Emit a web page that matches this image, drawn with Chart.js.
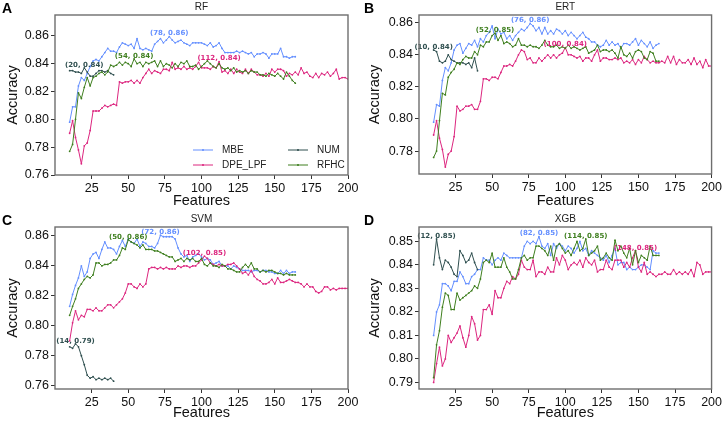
<!DOCTYPE html>
<html lang="en">
<head>
    <meta charset="UTF-8">
    <title>Accuracy vs Features</title>
    <style>
        body { margin: 0; background: #fff; }
        .wrap { position: relative; width: 724px; height: 425px; }
        canvas { position: absolute; }
    </style>
    <script src="https://cdn.jsdelivr.net/npm/chart.js"></script>
</head>
<body>
    <div class="wrap">
        <canvas id="pA" width="362" height="212" style="left:0;top:0"></canvas>
        <canvas id="pB" width="362" height="212" style="left:362px;top:0"></canvas>
        <canvas id="pC" width="362" height="212" style="left:0;top:212px"></canvas>
        <canvas id="pD" width="362" height="212" style="left:362px;top:212px"></canvas>
    </div>

    <script>
        // feature counts (x values)
        const featShort = [10,12,14,16,18,20,22,24,26,28,30,32,34,36,38,40,42,44,46,48,50,52,54,56,58,60,62,64,66,68,70,72,74,76,78,80,82,84,86,88,90,92,94,96,98,100,102,104,106,108,110,112,114,116,118,120,122,124,126,128,130,132,134,136,138,140,142,144,146,148,150,152,154,156,158,160,162,164];
        const featLong = [10,12,14,16,18,20,22,24,26,28,30,32,34,36,38,40,42,44,46,48,50,52,54,56,58,60,62,64,66,68,70,72,74,76,78,80,82,84,86,88,90,92,94,96,98,100,102,104,106,108,110,112,114,116,118,120,122,124,126,128,130,132,134,136,138,140,142,144,146,148,150,152,154,156,158,160,162,164,166,168,170,172,174,176,178,180,182,184,186,188,190,192,194,196,198,200];
        const featNum = [10,12,14,16,18,20,22,24,26,28,30,32,34,36,38,40];

        const seriesNames = ['MBE', 'DPE_LPF', 'NUM', 'RFHC'];
        const seriesColors = ['#648FFF', '#DC267F', '#2F4F4F', '#3F7F1F'];
        const xTicks = [25, 50, 75, 100, 125, 150, 175, 200];

        // RF
        const rfMBE = [
            .798,.809,.809,.824,.830,.828,.833,.838,.842,.843,
            .842,.845,.848,.851,.849,.849,.848,.852,.855,.854,
            .853,.854,.851,.858,.851,.850,.851,.850,.849,.854,
            .856,.858,.855,.857,.8595,.857,.855,.856,.857,.855,
            .854,.853,.855,.855,.855,.855,.854,.853,.855,.852,
            .853,.855,.851,.848,.848,.848,.848,.849,.848,.849,
            .848,.847,.848,.845,.847,.847,.848,.847,.844,.847,
            .847,.847,.851,.845,.845,.844,.845,.845];
        const rfDPE = [
            .790,.799,.787,.778,.768,.781,.783,.792,.806,.806,
            .806,.808,.810,.809,.810,.811,.810,.827,.826,.827,
            .827,.828,.826,.828,.826,.830,.833,.836,.833,.835,
            .834,.833,.836,.836,.835,.841,.836,.837,.836,.838,
            .836,.837,.836,.838,.841,.837,.837,.837,.836,.838,
            .837,.8415,.834,.835,.833,.836,.833,.836,.834,.833,
            .836,.833,.836,.834,.832,.832,.831,.833,.831,.836,
            .834,.836,.836,.835,.831,.833,.832,.834,.832,.837,
            .833,.834,.831,.830,.833,.830,.833,.832,.834,.831,
            .833,.836,.829,.830,.830,.829];
        const rfNUM = [.835,.835,.834,.834,.833,.837,.834,.831,.831,.833,.835,.835,.834,.835,.833,.832];
        const rfRFHC = [
            .777,.782,.800,.819,.815,.823,.830,.824,.830,.831,
            .833,.834,.832,.834,.839,.838,.839,.841,.839,.841,
            .840,.838,.8435,.840,.841,.838,.841,.840,.841,.842,
            .838,.842,.838,.840,.839,.837,.840,.838,.841,.840,
            .842,.838,.838,.839,.836,.838,.840,.842,.840,.838,
            .837,.840,.837,.836,.837,.835,.837,.834,.835,.834,
            .835,.833,.835,.834,.834,.832,.832,.831,.833,.832,
            .831,.833,.831,.829,.834,.831,.828,.826];

        // ERT
        const ertMBE = [
            .798,.809,.808,.824,.832,.830,.835,.843,.846,.847,
            .841,.844,.847,.846,.849,.845,.850,.848,.852,.854,
            .858,.850,.856,.853,.854,.850,.852,.849,.852,.854,
            .856,.855,.857,.8595,.858,.855,.857,.853,.857,.853,
            .855,.853,.856,.855,.853,.855,.852,.854,.852,.850,
            .852,.854,.851,.850,.848,.848,.846,.845,.846,.849,
            .846,.848,.846,.847,.844,.847,.847,.846,.848,.850,
            .846,.849,.847,.845,.848,.844,.846,.847];
        const ertDPE = [
            .790,.799,.788,.781,.770,.778,.780,.789,.808,.805,
            .806,.808,.808,.809,.806,.806,.811,.825,.825,.824,
            .826,.826,.825,.829,.833,.833,.834,.833,.836,.840,
            .843,.842,.837,.838,.835,.835,.838,.836,.838,.840,
            .838,.840,.838,.840,.841,.8445,.840,.840,.839,.838,
            .839,.836,.838,.838,.836,.840,.843,.836,.838,.838,
            .837,.837,.838,.837,.838,.835,.836,.835,.837,.834,
            .837,.835,.839,.837,.835,.836,.835,.835,.836,.835,
            .839,.835,.839,.834,.837,.835,.835,.837,.834,.838,
            .834,.836,.832,.837,.833,.833];
        const ertNUM = [.843,.842,.836,.835,.836,.840,.837,.836,.835,.835,.835,.834,.835,.832,.838,.830];
        const ertRFHC = [
            .776,.780,.799,.816,.815,.826,.829,.831,.835,.834,
            .837,.839,.838,.838,.842,.840,.846,.845,.848,.848,
            .852,.8535,.849,.852,.847,.848,.847,.845,.846,.850,
            .846,.846,.845,.846,.845,.845,.844,.846,.849,.846,
            .845,.845,.846,.844,.845,.844,.846,.844,.845,.844,
            .843,.844,.845,.841,.842,.843,.846,.842,.843,.843,
            .842,.843,.841,.838,.845,.840,.839,.841,.838,.842,
            .843,.842,.838,.837,.842,.841,.836,.836];

        // SVM
        const svmMBE = [
            .813,.821,.827,.832,.840,.833,.836,.845,.848,.849,
            .845,.851,.856,.852,.852,.851,.848,.853,.857,.853,
            .858,.856,.855,.858,.853,.856,.855,.853,.853,.852,
            .855,.8605,.8595,.8595,.8595,.8595,.858,.852,.848,.846,
            .847,.843,.846,.847,.848,.846,.844,.845,.844,.841,
            .842,.843,.840,.840,.840,.838,.840,.839,.838,.837,
            .837,.837,.836,.837,.837,.836,.837,.837,.836,.836,
            .835,.835,.837,.835,.837,.835,.836,.836];
        const svmDPE = [
            .790,.802,.810,.804,.807,.806,.811,.811,.810,.812,
            .810,.810,.812,.814,.814,.812,.814,.816,.818,.822,
            .828,.828,.826,.825,.828,.826,.828,.838,.839,.839,
            .838,.839,.838,.839,.838,.838,.838,.840,.839,.840,
            .840,.839,.840,.840,.842,.844,.8465,.845,.842,.841,
            .840,.841,.840,.840,.841,.841,.842,.840,.838,.835,
            .836,.834,.837,.833,.831,.830,.828,.828,.829,.831,
            .828,.832,.829,.829,.830,.831,.830,.829,.829,.828,
            .826,.828,.826,.826,.823,.822,.823,.826,.826,.824,
            .825,.824,.825,.825,.825,.825];
        const svmNUM = [.786,.785,.788,.786,.780,.774,.767,.765,.766,.764,.765,.764,.765,.764,.765,.763];
        const svmRFHC = [
            .807,.813,.818,.825,.828,.831,.833,.832,.834,.842,
            .842,.840,.841,.841,.842,.844,.844,.847,.852,.851,
            .8575,.856,.855,.854,.852,.854,.851,.851,.851,.850,
            .850,.849,.848,.847,.846,.846,.843,.844,.845,.843,
            .845,.844,.845,.843,.843,.845,.841,.840,.842,.840,
            .840,.839,.841,.840,.838,.838,.837,.836,.836,.839,
            .841,.839,.842,.838,.838,.836,.837,.836,.837,.837,
            .836,.835,.835,.834,.835,.834,.834,.834];

        // XGB
        const xgbMBE = [
            .810,.820,.823,.832,.832,.831,.829,.833,.833,.837,
            .835,.832,.832,.835,.836,.838,.838,.843,.842,.842,
            .840,.842,.843,.842,.845,.844,.843,.843,.843,.843,
            .843,.848,.850,.849,.850,.849,.852,.848,.847,.849,
            .844,.849,.847,.849,.848,.846,.848,.847,.845,.847,
            .850,.846,.847,.844,.846,.845,.844,.843,.842,.844,
            .841,.844,.847,.840,.841,.841,.838,.839,.838,.838,
            .839,.840,.840,.839,.838,.846,.845,.845];
        const xgbDPE = [
            .790,.798,.805,.797,.800,.810,.807,.809,.811,.814,
            .809,.805,.810,.818,.815,.808,.810,.821,.821,.823,
            .819,.829,.826,.826,.830,.833,.832,.835,.834,.836,
            .842,.839,.838,.838,.842,.835,.837,.837,.836,.839,
            .837,.837,.843,.840,.844,.842,.838,.840,.841,.840,
            .842,.839,.843,.841,.840,.842,.837,.838,.838,.842,
            .839,.838,.842,.842,.842,.839,.841,.839,.843,.846,
            .839,.837,.841,.836,.837,.836,.835,.836,.836,.837,
            .836,.836,.838,.836,.837,.836,.837,.836,.838,.835,
            .841,.840,.836,.837,.837,.837];
        const xgbNUM = [.840,.851,.843,.838,.842,.841,.839,.836,.835,.846,.844,.841,.842,.845,.841,.838];
        const xgbRFHC = [
            .792,.806,.812,.822,.828,.827,.821,.821,.828,.825,
            .826,.827,.828,.829,.831,.830,.834,.841,.842,.841,
            .845,.839,.839,.839,.843,.839,.837,.834,.834,.838,
            .843,.844,.842,.843,.843,.848,.848,.847,.846,.844,
            .848,.842,.848,.849,.847,.845,.846,.844,.847,.850,
            .846,.847,.851,.844,.845,.846,.848,.842,.843,.845,
            .843,.842,.8505,.846,.848,.845,.843,.847,.840,.846,
            .841,.844,.843,.842,.848,.844,.844,.844];

        const ticksRF = [0.76, 0.78, 0.80, 0.82, 0.84, 0.86];
        const ticksERT = [0.78, 0.80, 0.82, 0.84, 0.86];
        const ticksSVM = [0.76, 0.78, 0.80, 0.82, 0.84, 0.86];
        const ticksXGB = [0.79, 0.80, 0.81, 0.82, 0.83, 0.84, 0.85];

        Chart.defaults.font.family = '"Liberation Sans", Arial, sans-serif';
        Chart.defaults.color = '#111';

        // box around plot area, title, panel letter, max annotations, legend
        const decorPlugin = {
            id: 'decor',
            afterDatasetsDraw(chart) {
                const c = chart.config.options.panel;
                const ctx = chart.ctx;
                const a = chart.chartArea;
                const xs = chart.scales.x, ys = chart.scales.y;
                ctx.save();
                // annotations at each series maximum
                ctx.font = 'bold 7px "DejaVu Sans", sans-serif';
                ctx.textAlign = 'center';
                ctx.textBaseline = 'middle';
                chart.data.datasets.forEach((ds, i) => {
                    let best = 0;
                    ds.data.forEach((p, j) => { if (p.y > ds.data[best].y) best = j; });
                    const p = ds.data[best];
                    ctx.fillStyle = seriesColors[i];
                    ctx.fillText('(' + p.x + ', ' + p.y.toFixed(2) + ')', xs.getPixelForValue(p.x), ys.getPixelForValue(p.y) - 3);
                });
                // frame
                ctx.strokeStyle = '#6e6e6e';
                ctx.lineWidth = 1.4;
                ctx.strokeRect(a.left, a.top, a.right - a.left, a.bottom - a.top);
                // title and letter
                ctx.fillStyle = '#222';
                ctx.font = '10px "Liberation Sans", Arial, sans-serif';
                ctx.textAlign = 'center';
                ctx.fillText(c.title, (a.left + a.right) / 2, 7.5);
                ctx.fillStyle = '#000';
                ctx.font = 'bold 14px "Liberation Sans", Arial, sans-serif';
                ctx.textAlign = 'left';
                ctx.textBaseline = 'alphabetic';
                ctx.fillText(c.letter, 2, 13);
                // legend (panel A only)
                if (c.legend) {
                    ctx.font = '10px "Liberation Sans", Arial, sans-serif';
                    ctx.textBaseline = 'middle';
                    const cols = [a.right - 155, a.right - 60];
                    const rows = [a.bottom - 25, a.bottom - 10];
                    const place = [[0, 0], [0, 1], [1, 0], [1, 1]];
                    seriesNames.forEach((name, i) => {
                        const x0 = cols[place[i][0]], y0 = rows[place[i][1]];
                        ctx.strokeStyle = seriesColors[i];
                        ctx.fillStyle = seriesColors[i];
                        ctx.lineWidth = 1;
                        ctx.beginPath();
                        ctx.moveTo(x0, y0);
                        ctx.lineTo(x0 + 20, y0);
                        ctx.stroke();
                        ctx.beginPath();
                        ctx.arc(x0 + 10, y0, 1, 0, Math.PI * 2);
                        ctx.fill();
                        ctx.fillStyle = '#222';
                        ctx.fillText(name, x0 + 29, y0);
                    });
                }
                ctx.restore();
            }
        };

        function makePanel(id, cfg) {
            const xsets = [featShort, featLong, featNum, featShort];
            const datasets = cfg.series.map((vals, i) => ({
                label: seriesNames[i],
                data: vals.map((v, j) => ({ x: xsets[i][j], y: v })),
                borderColor: seriesColors[i],
                backgroundColor: seriesColors[i],
                borderWidth: 1,
                pointRadius: 0.9,
                pointBorderWidth: 0,
                tension: 0,
                order: 3 - i
            }));
            new Chart(document.getElementById(id), {
                type: 'line',
                data: { datasets: datasets },
                plugins: [decorPlugin],
                options: {
                    panel: cfg,
                    responsive: false,
                    animation: false,
                    events: [],
                    layout: { padding: { top: 15, right: 362 - cfg.right, left: 0, bottom: 0 } },
                    plugins: { legend: { display: false }, tooltip: { enabled: false } },
                    scales: {
                        x: {
                            type: 'linear', min: 0, max: 200,
                            afterBuildTicks: s => { s.ticks = xTicks.map(v => ({ value: v })); },
                            afterFit: s => { s.height = 212 - cfg.bottom; },
                            grid: { drawOnChartArea: false, tickLength: 4, color: '#333' },
                            border: { display: false },
                            ticks: { padding: 2, font: { size: 12.5 }, color: '#111', maxRotation: 0 },
                            title: { display: true, text: 'Features', font: { size: 14.5 }, color: '#111', padding: { top: 0, bottom: 2 } }
                        },
                        y: {
                            min: cfg.ymin, max: cfg.ymax,
                            afterBuildTicks: s => { s.ticks = cfg.yTicks.map(v => ({ value: v })); },
                            afterFit: s => { s.width = cfg.left; },
                            grid: { drawOnChartArea: false, tickLength: 4, color: '#333' },
                            border: { display: false },
                            ticks: { padding: 2, font: { size: 12.5 }, color: '#111', callback: v => v.toFixed(2) },
                            title: { display: true, text: 'Accuracy', font: { size: 14.5 }, color: '#111', padding: { top: 4, bottom: 0 } }
                        }
                    }
                }
            });
        }

        makePanel('pA', { letter: 'A', title: 'RF', legend: true, left: 55, right: 348, bottom: 175,
            ymin: 0.76, ymax: 0.875, yTicks: ticksRF, series: [rfMBE, rfDPE, rfNUM, rfRFHC] });
        makePanel('pB', { letter: 'B', title: 'ERT', left: 57, right: 351, bottom: 174,
            ymin: 0.7657, ymax: 0.8648, yTicks: ticksERT, series: [ertMBE, ertDPE, ertNUM, ertRFHC] });
        makePanel('pC', { letter: 'C', title: 'SVM', left: 55, right: 348, bottom: 177,
            ymin: 0.7578, ymax: 0.866, yTicks: ticksSVM, series: [svmMBE, svmDPE, svmNUM, svmRFHC] });
        makePanel('pD', { letter: 'D', title: 'XGB', left: 57, right: 351, bottom: 177,
            ymin: 0.7872, ymax: 0.8561, yTicks: ticksXGB, series: [xgbMBE, xgbDPE, xgbNUM, xgbRFHC] });
    </script>
</body>
</html>
